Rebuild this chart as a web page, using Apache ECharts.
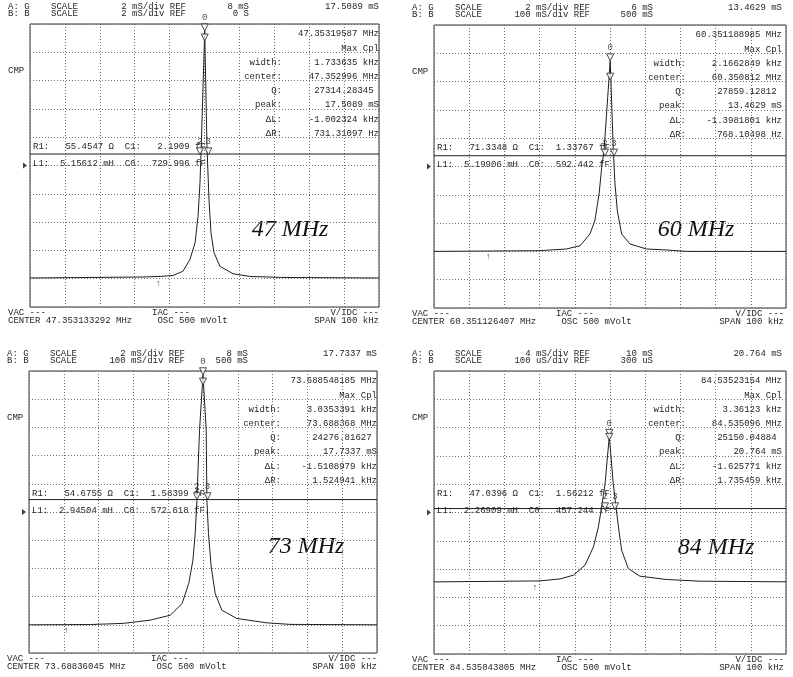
<!DOCTYPE html>
<html>
<head>
<meta charset="utf-8">
<script src="https://cdn.jsdelivr.net/npm/echarts@6/dist/echarts.min.js"></script>
<style>
html, body { margin: 0; padding: 0; background: #fff; }
#chart { width: 793px; height: 677px; }
</style>
</head>
<body>
<div id="chart"></div>
<script>
// trace A (G) : frequency offset from CENTER in kHz, conductance in mS
var freq47 = [-50, -17.6, -12.7, -9.0, -6.2, -4.2, -2.7, -1.86, -1.29, -0.9, 0.06, 0.7, 1.29, 1.86, 2.72, 4.44, 8.2, 13, 22, 50];
var cond47 = [0.05, 0.12, 0.16, 0.23, 0.52, 1.34, 2.54, 4.40, 6.78, 9.6, 17.51, 9.4, 5.58, 3.25, 1.84, 0.87, 0.35, 0.16, 0.09, 0.05];
var freq60 = [-50, -20, -12.4, -8.5, -5.7, -4.3, -3.1, -2.36, -1.7, 0.06, 0.95, 1.42, 2.08, 3.3, 5.7, 10.4, 16.1, 21.8, 50];
var cond60 = [0.0, 0.05, 0.17, 0.4, 1.23, 2.17, 4.06, 5.94, 7.1, 13.46, 7.1, 4.76, 2.88, 1.23, 0.52, 0.17, 0.1, 0.0, 0.0];
var freq73 = [-50, -32.3, -22.9, -15.2, -9.4, -6.0, -4.1, -2.9, -2.24, -1.75, -1.0, 0.0, 0.92, 1.12, 1.58, 2.36, 3.5, 5.4, 9.7, 18.3, 25, 50];
var cond73 = [0.0, 0.02, 0.1, 0.33, 0.68, 1.51, 2.93, 4.58, 6.47, 8.83, 13.8, 17.73, 13.8, 8.83, 6.47, 4.1, 2.22, 1.04, 0.45, 0.14, 0.03, 0.0];
var freq84 = [-50, -19.9, -14.2, -10.4, -7.1, -4.7, -3.3, -2.36, -1.42, -0.2, 0.94, 1.7, 2.4, 3.3, 5.2, 8.5, 16.1, 25.6, 50];
var cond84 = [0.19, 0.33, 0.61, 1.14, 2.55, 5.14, 7.96, 10.8, 14.0, 20.76, 14.0, 10.8, 7.96, 4.67, 2.08, 1.0, 0.53, 0.29, 0.2];

// trace B (flat) level, in B units of each panel
var bLevel = [0.81, 538, 544, 314];

// scales: REF at centre line, 10 divisions
var refA = [8, 6, 8, 10];
var divA = [2, 2, 2, 4];
var refB = [0, 500, 500, 300];
var divB = [2, 100, 100, 100];

// markers (kHz, mS)
var peakKHz = [0.06, 0.06, 0.0, -0.2];
var peakMS = [17.5089, 13.4629, 17.7337, 20.764];
var sub1MS = [16.8, 12.1, 17.0, 20.2];
var edgeL = [-1.29, -1.42, -1.75, -1.42];
var edgeR = [1.09, 1.14, 1.3, 1.42];
var arrowKHz = [-13.3, -34.6, -39.3, -21.3];
var arrowMS = [0.05, 0.0, 0.0, 0.2];

// texts
var headA = [
  ['2 mS/div REF', '8 mS', '17.5089 mS'],
  ['2 mS/div REF', '6 mS', '13.4629 mS'],
  ['2 mS/div REF', '8 mS', '17.7337 mS'],
  ['4 mS/div REF', '10 mS', '20.764 mS']
];
var headB = [
  ['2 mS/div REF', '0 S'],
  ['100 mS/div REF', '500 mS'],
  ['100 mS/div REF', '500 mS'],
  ['100 uS/div REF', '300 uS']
];
var infoLabels = ['', '', 'width:', 'center:', 'Q:', 'peak:', '\u0394L:', '\u0394R:'];
var infoVals = [
  ['47.35319587 MHz', 'Max Cpl', '1.733635 kHz', '47.352996 MHz', '27314.28345 ', '17.5089 mS', '-1.002324 kHz', '731.31097 Hz'],
  ['60.351188985 MHz', 'Max Cpl', '2.1662849 kHz', '60.350812 MHz', '27859.12812 ', '13.4629 mS', '-1.3981801 kHz', '768.10498 Hz'],
  ['73.688548185 MHz', 'Max Cpl', '3.0353391 kHz', '73.688368 MHz', '24276.81627 ', '17.7337 mS', '-1.5108979 kHz', '1.524941 kHz'],
  ['84.53523154 MHz', 'Max Cpl', '3.36123 kHz', '84.535096 MHz', '25150.04884 ', '20.764 mS', '-1.625771 kHz', '1.735459 kHz']
];
var rowR1 = [
  'R1:   55.4547 \u03a9  C1:   2.1909 fF',
  'R1:   71.3348 \u03a9  C1:  1.33767 fF',
  'R1:   54.6755 \u03a9  C1:  1.58399 fF',
  'R1:   47.0396 \u03a9  C1:  1.56212 fF'
];
var rowL1 = [
  'L1:  5.15612 mH  C0:  729.996 fF',
  'L1:  5.19906 mH  C0:  592.442 fF',
  'L1:  2.94504 mH  C0:  572.618 fF',
  'L1:  2.26909 mH  C0:  457.244 fF'
];
var centerTxt = ['CENTER 47.353133292 MHz', 'CENTER 60.351126407 MHz', 'CENTER 73.68836045 MHz', 'CENTER 84.535043805 MHz'];
var bigLabel = ['47 MHz', '60 MHz', '73 MHz', '84 MHz'];

var boxes = [
  { l: 30, t: 24, w: 349, h: 283, inset: 0, lx: 260, ly: 206 },
  { l: 434, t: 25, w: 352, h: 283, inset: 4, lx: 262, ly: 205 },
  { l: 29, t: 371, w: 348, h: 282, inset: 0, lx: 277, ly: 176 },
  { l: 434, t: 371, w: 352, h: 283, inset: 4, lx: 282, ly: 177 }
];
var traces = [[freq47, cond47], [freq60, cond60], [freq73, cond73], [freq84, cond84]];

var MONO = '"Liberation Mono", "DejaVu Sans Mono", monospace';
var INK = '#262626';

function zip(a, b) {
  var out = [];
  for (var i = 0; i < a.length; i++) out.push([a[i], b[i]]);
  return out;
}

var chart = echarts.init(document.getElementById('chart'));
var grid = [], xAxis = [], yAxis = [], series = [], graphic = [];

function txt(x, y, s, align, font, fill) {
  graphic.push({
    type: 'text', x: x, y: y, silent: true,
    style: { text: s, font: font || ('9px ' + MONO), fill: fill || INK, align: align || 'left', verticalAlign: 'middle' }
  });
}

var dotted = { show: true, lineStyle: { color: '#707070', width: 1, type: [1, 2] } };

boxes.forEach(function (b, p) {
  var right = b.l + b.w;
  grid.push({ left: b.l, top: b.t, width: b.w, height: b.h, show: true, borderColor: '#333', borderWidth: 1 });
  xAxis.push({
    gridIndex: p, type: 'value', min: -50, max: 50, interval: 10,
    axisLine: { show: false }, axisTick: { show: false }, axisLabel: { show: false }, splitLine: dotted
  });
  // graticule (divisions)
  yAxis.push({
    gridIndex: p, type: 'value', min: 0, max: 10, interval: 1,
    axisLine: { show: false }, axisTick: { show: false }, axisLabel: { show: false }, splitLine: dotted
  });
  // A scale
  yAxis.push({ gridIndex: p, type: 'value', show: false, min: refA[p] - 5 * divA[p], max: refA[p] + 5 * divA[p] });
  // B scale
  yAxis.push({ gridIndex: p, type: 'value', show: false, min: refB[p] - 5 * divB[p], max: refB[p] + 5 * divB[p] });

  series.push({
    type: 'line', xAxisIndex: p, yAxisIndex: 3 * p + 1, data: zip(traces[p][0], traces[p][1]),
    symbol: 'none', lineStyle: { color: '#1e1e1e', width: 1 }, silent: true, animation: false, z: 3
  });
  series.push({
    type: 'line', xAxisIndex: p, yAxisIndex: 3 * p + 2, data: [[-50, bLevel[p]], [50, bLevel[p]]],
    symbol: 'none', lineStyle: { color: '#1e1e1e', width: 1 }, silent: true, animation: false, z: 3
  });
  var half = peakMS[p] / 2;
  series.push({
    type: 'scatter', xAxisIndex: p, yAxisIndex: 3 * p + 1, clip: false, silent: true, animation: false, z: 5,
    symbol: 'path://M0,0 L10,0 L5,9 Z', symbolSize: [7, 7], symbolOffset: [0, -3.5],
    itemStyle: { color: '#fff', borderColor: '#222', borderWidth: 1 },
    label: { show: true, position: 'top', distance: 1, formatter: '{b}', fontFamily: MONO, fontSize: 9, color: INK },
    data: [
      { name: '0', value: [peakKHz[p], peakMS[p]] },
      { name: '', value: [peakKHz[p], sub1MS[p]] },
      { name: '2', value: [edgeL[p], half] },
      { name: '3', value: [edgeR[p], half] }
    ]
  });
  series.push({
    type: 'scatter', xAxisIndex: p, yAxisIndex: 3 * p + 1, clip: false, silent: true, animation: false,
    symbolSize: 0,
    label: { show: true, position: 'bottom', distance: 1, formatter: '\u2191', fontFamily: MONO, fontSize: 9, color: INK },
    data: [[arrowKHz[p], arrowMS[p]]]
  });
  series.push({
    type: 'scatter', xAxisIndex: p, yAxisIndex: 3 * p + 1, clip: false, silent: true, animation: false,
    symbol: 'path://M0,0 L8,5 L0,10 Z', symbolSize: [4, 6], symbolOffset: [-5, 0],
    itemStyle: { color: '#111' },
    data: [[-50, refA[p]]]
  });

  // header
  var yA = b.t - 17, yB = b.t - 10;
  txt(b.l - 22, yA, 'A: G');
  txt(b.l - 22, yB, 'B: B');
  txt(b.l + 21, yA, 'SCALE');
  txt(b.l + 21, yB, 'SCALE');
  txt(b.l + 156, yA, headA[p][0], 'right');
  txt(b.l + 156, yB, headB[p][0], 'right');
  txt(b.l + 219, yA, headA[p][1], 'right');
  txt(b.l + 219, yB, headB[p][1], 'right');
  txt(right - b.inset, yA, headA[p][2], 'right');
  txt(b.l - 22, b.t + 47, 'CMP');

  // right info column
  for (var i = 0; i < 8; i++) {
    var y = b.t + 10 + i * 14.2;
    if (infoLabels[i]) txt(b.l + 252, y, infoLabels[i], 'right');
    txt(right - b.inset, y, infoVals[p][i], 'right');
  }
  txt(b.l + 3, b.t + 122.5, rowR1[p]);
  txt(b.l + 3, b.t + 139.5, rowL1[p]);

  // footer
  var yF1 = b.t + b.h + 6, yF2 = b.t + b.h + 13.5;
  txt(b.l - 22, yF1, 'VAC ---');
  txt(b.l - 22, yF2, centerTxt[p]);
  txt(b.l + 122, yF1, 'IAC ---');
  txt(b.l + 122, yF2, ' OSC 500 mVolt');
  txt(right - b.inset / 2, yF1, 'V/IDC ---', 'right');
  txt(right - b.inset / 2, yF2, 'SPAN 100 kHz', 'right');

  // big frequency label
  txt(b.l + b.lx, b.t + b.ly, bigLabel[p], 'center', 'italic 24px "Liberation Serif", "DejaVu Serif", serif', '#111');
});

chart.setOption({
  animation: false,
  backgroundColor: '#fff',
  grid: grid,
  xAxis: xAxis,
  yAxis: yAxis,
  series: series,
  graphic: graphic
});
</script>
</body>
</html>
